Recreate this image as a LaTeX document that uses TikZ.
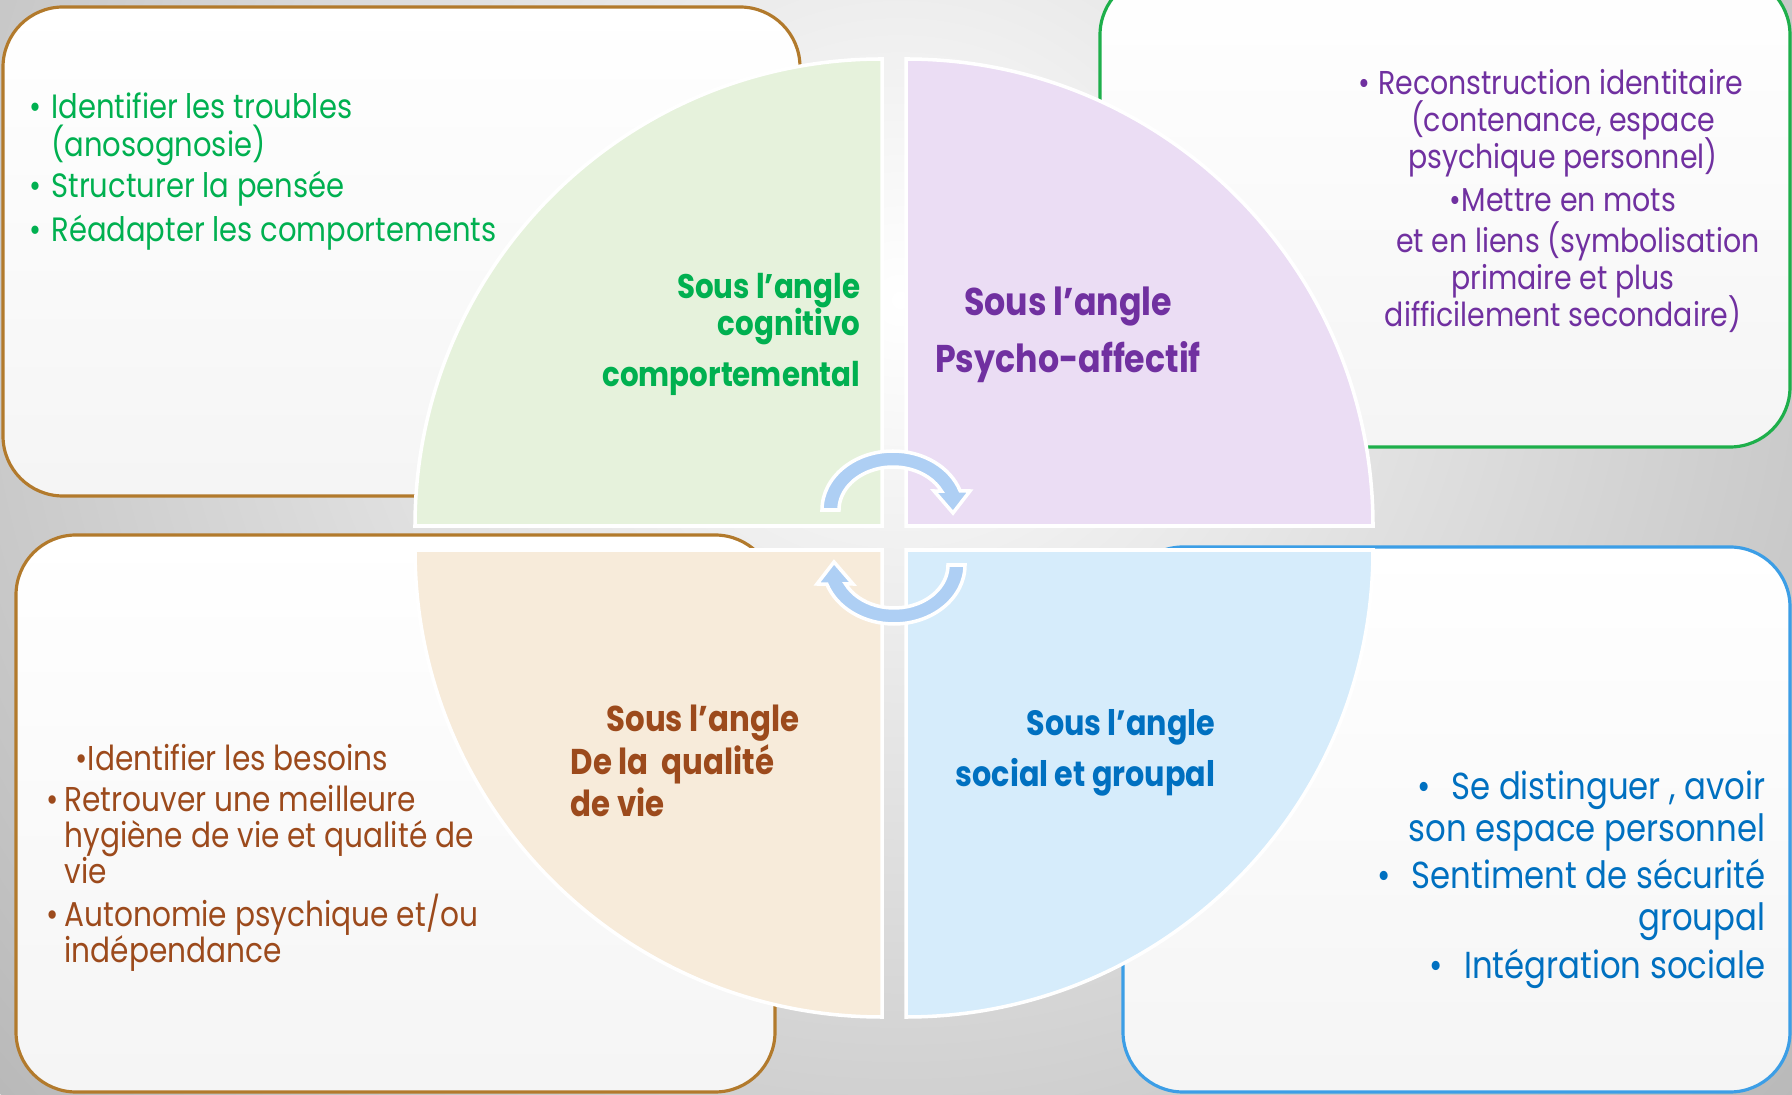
\documentclass[tikz,border=0pt]{standalone}
\usepackage{fontspec}
\setmainfont{Poppins}[FakeStretch=0.86]
\usetikzlibrary{positioning}

\definecolor{boxbrown}{HTML}{B27A2C}
\definecolor{boxgreen}{HTML}{1EAF4B}
\definecolor{boxblue}{HTML}{3C9EE6}
\definecolor{qgreen}{HTML}{E6F2DC}
\definecolor{qpurple}{HTML}{EBDDF4}
\definecolor{qbeige}{HTML}{F7EBDA}
\definecolor{qblue}{HTML}{D6ECFB}
\definecolor{txtgreen}{HTML}{00B050}
\definecolor{txtpurple}{HTML}{7030A0}
\definecolor{txtbrown}{HTML}{9C4A1C}
\definecolor{txtblue}{HTML}{0070C0}
\definecolor{arrowblue}{HTML}{AECFF4}

\newcommand{\bul}{\makebox[6.2pt][l]{\textbullet}}
\newcommand{\tightlines}{\setlength{\lineskiplimit}{-6pt}}

\tikzset{
  quad/.style={draw=white, line width=1pt},
  infobox/.style={line width=0.9pt, rounded corners=0.6cm, top color=white, bottom color=white!96!black},
  angletext/.style={inner sep=0pt, font=\bfseries\fontsize{10}{10.5}\selectfont},
  itemtext/.style={inner sep=0pt},
  cyclearrow/.pic={
    \path[fill=arrowblue, draw=white, line width=1pt]
      (180:0.71cm and 0.59cm) arc[start angle=180, end angle=19, x radius=0.71cm, y radius=0.59cm]
      -- (0.77,0.19) -- (0.60,-0.03) -- (0.41,0.19)
      -- (26:0.54cm and 0.43cm) arc[start angle=26, end angle=180, x radius=0.54cm, y radius=0.43cm]
      -- cycle;
  }
}

\begin{document}
\begin{tikzpicture}
\useasboundingbox (0,0) rectangle (17.92,-10.95);

% Background
\begin{scope}
\clip (0,0) rectangle (17.92,-10.95);
\shade[inner color=white, outer color=gray!55] (9,-3) circle (12);
\end{scope}

% Text boxes
\draw[infobox, draw=boxbrown] (0.03,-0.07) rectangle (8.00,-4.96);
\draw[infobox, draw=boxgreen] (11.00,0.25) rectangle (17.90,-4.47);
\draw[infobox, draw=boxbrown] (0.16,-5.35) rectangle (7.75,-10.92);
\draw[infobox, draw=boxblue] (11.23,-5.47) rectangle (17.90,-10.92);

% The four quarters
\draw[quad, fill=qgreen] (8.82,-5.26) -- (4.15,-5.26) arc[start angle=180, end angle=90, radius=4.67cm] -- cycle;
\draw[quad, fill=qpurple] (9.06,-5.26) -- (9.06,-0.59) arc[start angle=90, end angle=0, radius=4.67cm] -- cycle;
\draw[quad, fill=qbeige] (8.82,-5.50) -- (8.82,-10.17) arc[start angle=270, end angle=180, radius=4.67cm] -- cycle;
\draw[quad, fill=qblue] (9.06,-5.50) -- (13.73,-5.50) arc[start angle=0, end angle=-90, radius=4.67cm] -- cycle;

% Turning arrows
\pic at (8.93,-5.10) {cyclearrow};
\pic[rotate=180] at (8.94,-5.65) {cyclearrow};

% Labels of the quarters
\node[angletext, txtgreen, align=right, anchor=north east, font=\bfseries\fontsize{9.7}{10.5}\selectfont] (coglabel) at (8.61,-2.73)
  {Sous l’angle\\ cognitivo\\[4pt] comportemental};
\node[angletext, txtpurple, align=center, anchor=north, font=\bfseries\fontsize{11}{16.4}\selectfont] (psylabel) at (10.68,-2.86)
  {Sous l’angle\\ Psycho-affectif};
\node[angletext, txtbrown, align=left, anchor=north west, font=\bfseries\fontsize{10.2}{12.2}\selectfont] (qvlabel) at (5.70,-7.04)
  {\hspace*{10.2pt}Sous l’angle\\ De la\ \ qualité\\ de vie};
\node[angletext, txtblue, align=right, anchor=north east, font=\bfseries\fontsize{10}{14.5}\selectfont] (soclabel) at (12.16,-7.09)
  {Sous l’angle\\ social et groupal};

% Contents of the boxes
\node[itemtext, txtgreen, align=left, anchor=north west, font=\fontsize{9.6}{10.8}\selectfont\tightlines] (cogitems) at (0.29,-0.92)
  {\bul Identifier les troubles\\ \hspace*{6.2pt}(anosognosie)\\[1pt] \bul Structurer la pensée\\[1.5pt] \bul Réadapter les comportements};
\node[itemtext, txtpurple, align=center, anchor=north, font=\fontsize{9.4}{10.5}\selectfont\tightlines] (psyitems) at (15.63,-0.69)
  {\textbullet\ Reconstruction identitaire\hspace*{6.8pt}\\ (contenance, espace\\ psychique personnel)\\[1.7pt] \textbullet Mettre en mots\\[1.1pt]
   \hspace*{8.5pt}et en liens (symbolisation\\ primaire et plus\\ difficilement secondaire)};
\node[itemtext, txtbrown, align=left, anchor=north west, font=\fontsize{9.8}{10.2}\selectfont\tightlines] (qvitems) at (0.46,-7.43)
  {\hspace*{8.2pt}\textbullet Identifier les besoins\\[1.7pt] \makebox[5.1pt][l]{\textbullet}Retrouver une meilleure\\ \hspace*{5.1pt}hygiène de vie et qualité de\\ \hspace*{5.1pt}vie\\[2pt]
   \makebox[5.1pt][l]{\textbullet}Autonomie psychique et/ou\\ \hspace*{5.1pt}indépendance};
\node[itemtext, txtblue, align=right, anchor=north east, font=\fontsize{10.7}{11.9}\selectfont\tightlines] (socitems) at (17.66,-7.70)
  {\textbullet\hspace{6pt}Se distinguer , avoir\\ son espace personnel\\[1.7pt] \textbullet\hspace{6pt}Sentiment de sécurité\\ groupal\\[1.7pt] \textbullet\hspace{6pt}Intégration sociale};

\end{tikzpicture}
\end{document}
